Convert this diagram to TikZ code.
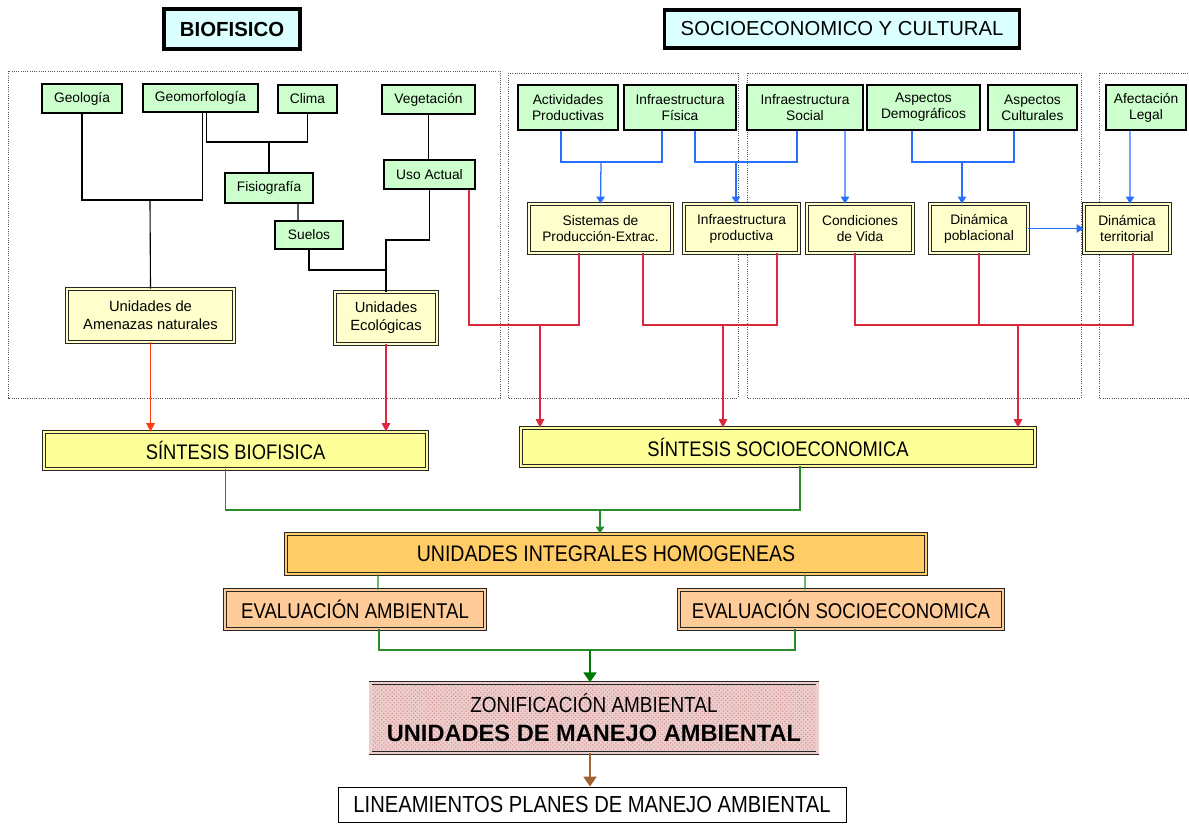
\documentclass[tikz,border=0pt]{standalone}
\usepackage{fontspec}
\setmainfont{Liberation Sans}
\newfontfamily\narrowfont{Liberation Sans}[FakeStretch=0.87]
\usetikzlibrary{arrows.meta, positioning, calc, patterns}

\definecolor{titlecyan}{RGB}{220, 255, 255}
\definecolor{datogreen}{RGB}{204, 255, 204}
\definecolor{unidyellow}{RGB}{255, 255, 204}
\definecolor{sintyellow}{RGB}{255, 255, 153}
\definecolor{integorange}{RGB}{255, 204, 102}
\definecolor{evalpeach}{RGB}{255, 204, 153}
\definecolor{zonapink}{RGB}{238, 205, 205}
\definecolor{zonadots}{RGB}{205, 140, 140}
\definecolor{lineblue}{RGB}{40, 110, 255}
\definecolor{linered}{RGB}{220, 40, 60}
\definecolor{lineorange}{RGB}{255, 60, 20}
\definecolor{linegreen}{RGB}{40, 140, 40}
\definecolor{darkgreen}{RGB}{0, 120, 0}
\definecolor{linebrown}{RGB}{160, 100, 50}

\tikzset{
  titlebox/.style={draw=black, line width=2.6pt, fill=titlecyan, inner sep=0pt, align=center},
  marco/.style={draw=black!65, densely dotted, line width=0.6pt},
  datobox/.style={draw=black, line width=0.8pt, fill=datogreen, inner sep=0pt, align=center,
    font=\fontsize{9.8}{11.3}\selectfont},
  unidbox/.style={draw=black!85, line width=0.55pt, double=unidyellow, double distance=1.6pt,
    fill=unidyellow, inner sep=0pt, align=center, font=\fontsize{9.8}{11.3}\selectfont},
  sintbox/.style={unidbox, double=sintyellow, fill=sintyellow, font=\narrowfont\fontsize{15}{17}\selectfont},
  integbox/.style={unidbox, double=integorange, fill=integorange, font=\narrowfont\fontsize{16}{18}\selectfont},
  evalbox/.style={unidbox, double=evalpeach, fill=evalpeach, font=\narrowfont\fontsize{15.2}{17}\selectfont},
  zonabox/.style={unidbox, double=zonapink, preaction={fill=zonapink}, fill=none,
    pattern=crosshatch dots, pattern color=zonadots, font=\fontsize{16.8}{21}\selectfont},
  lineabox/.style={draw=black, line width=0.6pt, fill=white, inner sep=0pt,
    font=\narrowfont\fontsize{16.5}{18}\selectfont},
  negra/.style={draw=black, line width=0.8pt},
  azul/.style={draw=lineblue, line width=0.9pt},
  azulf/.style={azul, -{Triangle[width=6pt, length=5pt]}},
  roja/.style={draw=linered, line width=0.9pt},
  rojaf/.style={roja, -{Triangle[width=6pt, length=6pt]}},
  verde/.style={draw=linegreen, line width=0.8pt},
  verdef/.style={verde, -{Triangle[width=6pt, length=5pt]}},
}

\begin{document}
\begin{tikzpicture}[x=0.025cm, y=-0.025cm]
  \useasboundingbox (0,0) rectangle (1189,823);

  % Titles
  \node[titlebox, minimum width=3.4cm, minimum height=1cm, font=\bfseries\fontsize{14.5}{16}\selectfont] (bio) at (232,29) {BIOFISICO};
  \node[titlebox, minimum width=8.875cm, minimum height=0.95cm, font=\fontsize{14.4}{16}\selectfont] (socio) at (842,29) {SOCIOECONOMICO Y CULTURAL};

  % Dotted frames
  \draw[marco] (8,71) rectangle (500,398);
  \draw[marco] (508,73) rectangle (738,398);
  \draw[marco] (747,73) rectangle (1081,398);
  \draw[marco] (1099,73) rectangle (1200,398);

  % Biofisico components
  \node[datobox, minimum width=2cm, minimum height=0.725cm] (geol) at (82,98.5) {Geología};
  \node[datobox, minimum width=2.875cm, minimum height=0.7cm] (geom) at (200.5,98) {Geomorfología};
  \node[datobox, minimum width=1.475cm, minimum height=0.7cm] (clima) at (307.5,99) {Clima};
  \node[datobox, minimum width=2.325cm, minimum height=0.725cm] (veget) at (428.5,99.5) {Vegetación};
  \node[datobox, minimum width=2.2cm, minimum height=0.75cm] (fisio) at (269,188) {Fisiografía};
  \node[datobox, minimum width=2.275cm, minimum height=0.725cm] (uso) at (429.5,174.5) {Uso Actual};
  \node[datobox, minimum width=1.7cm, minimum height=0.7cm] (suelos) at (309,235) {Suelos};

  \node[unidbox, minimum width=4.175cm, minimum height=1.325cm, font=\fontsize{10.5}{12.6}\selectfont] (amen) at (150.5,315.5) {Unidades de\\Amenazas naturales};
  \node[unidbox, minimum width=2.55cm, minimum height=1.3cm, font=\fontsize{10.5}{12.6}\selectfont] (ecol) at (386,318) {Unidades\\Ecológicas};

  % Socioeconomic components
  \node[datobox, minimum width=2.5cm, minimum height=1.125cm] (activ) at (568,107.5) {Actividades\\Productivas};
  \node[datobox, minimum width=2.8cm, minimum height=1.125cm] (ifis) at (680,107.5) {Infraestructura\\Física};
  \node[datobox, minimum width=2.9cm, minimum height=1.125cm] (isoc) at (805,107.5) {Infraestructura\\Social};
  \node[datobox, minimum width=2.825cm, minimum height=1.125cm] (demog) at (923.5,107.5) {Aspectos\\Demográficos};
  \node[datobox, minimum width=2.225cm, minimum height=1.125cm] (cultu) at (1032.5,107.5) {Aspectos\\Culturales};
  \node[datobox, minimum width=2cm, minimum height=1.125cm] (legal) at (1146,107.5) {Afectación\\Legal};

  \node[unidbox, minimum width=3.575cm, minimum height=1.225cm] (sistp) at (600.5,228.5) {Sistemas de\\Producción-Extrac.};
  \node[unidbox, minimum width=2.875cm, minimum height=1.225cm] (iprod) at (741.5,228.5) {Infraestructura\\productiva};
  \node[unidbox, minimum width=2.65cm, minimum height=1.225cm] (condv) at (860,228.5) {Condiciones\\de Vida};
  \node[unidbox, minimum width=2.45cm, minimum height=1.225cm] (dinpob) at (979,228.5) {Dinámica\\poblacional};
  \node[unidbox, minimum width=2.15cm, minimum height=1.225cm] (dinter) at (1127,228.5) {Dinámica\\territorial};

  % Syntheses and results
  \node[sintbox, minimum width=9.575cm, minimum height=0.925cm] (sbio) at (235.5,450.5) {SÍNTESIS BIOFISICA};
  \node[sintbox, minimum width=12.85cm, minimum height=0.95cm] (ssoc) at (778,447) {SÍNTESIS SOCIOECONOMICA};
  \node[integbox, minimum width=16cm, minimum height=1cm] (uih) at (606,554) {UNIDADES INTEGRALES HOMOGENEAS};
  \node[evalbox, minimum width=6.5cm, minimum height=0.975cm] (evamb) at (355,609.5) {EVALUACIÓN AMBIENTAL};
  \node[evalbox, minimum width=8.1cm, minimum height=0.975cm] (evsoc) at (841,609.5) {EVALUACIÓN SOCIOECONOMICA};
  \node[zonabox, minimum width=11.175cm, minimum height=1.75cm] (zona) at (594,717.7) {{\narrowfont\fontsize{15.5}{18}\selectfont ZONIFICACIÓN AMBIENTAL}\\{\bfseries UNIDADES DE MANEJO AMBIENTAL}};
  \node[lineabox, minimum width=12.7cm, minimum height=0.875cm] (linea) at (592,804.5) {LINEAMIENTOS PLANES DE MANEJO AMBIENTAL};

  % Biofisico links
  \coordinate (jgeo) at (150,200);
  \coordinate (jclima) at (269,142);
  \coordinate (jeco) at (386,270);
  \coordinate (juso) at (386,240);
  \draw[negra] (geol.south) |- (jgeo) -| ([xshift=0.04cm]geom.south);
  \draw[negra] (jgeo) -- (amen.north);
  \draw[negra] ([xshift=0.16cm]geom.south) |- (jclima) -| (clima.south);
  \draw[negra] (jclima) -- (fisio.north);
  \draw[negra] ([xshift=0.725cm]fisio.south) -- ([xshift=-0.275cm]suelos.north);
  \draw[negra] (suelos.south) |- (jeco);
  \draw[negra] (veget.south) -- (veget.south |- uso.north);
  \draw[negra] (uso.south) |- (juso) -- (ecol.north);
  \draw[draw=lineorange, line width=0.9pt, -{Triangle[width=6pt, length=6pt]}] (amen.south) -- (amen.south |- sbio.north);
  \draw[rojaf] (ecol.south) -- (ecol.south |- sbio.north);

  % Socioeconomic links
  \coordinate (jsis) at (601,162);
  \coordinate (jipr) at (736,162);
  \coordinate (jpob) at (962,162);
  \draw[azul] ([xshift=-0.175cm]activ.south) |- (jsis) -| ([xshift=-0.45cm]ifis.south);
  \draw[azulf] (jsis) -- (sistp.north);
  \draw[azul] ([xshift=0.375cm]ifis.south) |- (jipr) -| ([xshift=-0.2cm]isoc.south);
  \draw[azulf] (jipr) -- (jipr |- iprod.north);
  \draw[azulf] ([xshift=1cm]isoc.south) -- ([xshift=-0.375cm]condv.north);
  \draw[azul] ([xshift=-0.2875cm]demog.south) |- (jpob) -| ([xshift=-0.4625cm]cultu.south);
  \draw[azulf] (jpob) -- (jpob |- dinpob.north);
  \draw[azulf] (dinpob.east) -- (dinter.west);
  \draw[azulf] ([xshift=-0.4cm]legal.south) -- ([xshift=0.075cm]dinter.north);

  \coordinate (jr1) at (540,325);
  \coordinate (jr2) at (723,325);
  \coordinate (jr3) at (1018,325);
  \draw[roja] ([xshift=0.99cm]uso.south) |- (jr1) -| ([xshift=-0.5375cm]sistp.south);
  \draw[rojaf] (jr1) -- (jr1 |- ssoc.north);
  \draw[roja] ([xshift=1.0625cm]sistp.south) |- (jr2) -| ([xshift=0.8875cm]iprod.south);
  \draw[rojaf] (jr2) -- (jr2 |- ssoc.north);
  \draw[roja] ([xshift=-0.125cm]condv.south) |- (jr3) -| ([xshift=0.15cm]dinter.south);
  \draw[roja] (dinpob.south) -- (dinpob.south |- jr3);
  \draw[rojaf] (jr3) -- (jr3 |- ssoc.north);

  % Integration
  \coordinate (jsin) at (600,510);
  \coordinate (jeva) at (590,650);
  \draw[verde] ([xshift=-0.24cm]sbio.south) |- (jsin) -| ([xshift=0.55cm]ssoc.south);
  \draw[verdef] (jsin) -- (jsin |- uih.north);
  \draw[verde] ([xshift=-5.7cm]uih.south) -- ([xshift=0.575cm]evamb.north);
  \draw[verde] ([xshift=4.975cm]uih.south) -- ([xshift=-0.9cm]evsoc.north);
  \draw[verde] ([xshift=0.6cm]evamb.south) |- (jeva) -| ([xshift=-1.15cm]evsoc.south);
  \draw[draw=darkgreen, line width=2pt, -{Triangle[width=9pt, length=7pt]}] (jeva) -- (jeva |- zona.north);
  \draw[draw=linebrown, line width=2pt, -{Triangle[width=9pt, length=7pt]}] (zona.south -| jeva) -- (jeva |- linea.north);
\end{tikzpicture}
\end{document}
